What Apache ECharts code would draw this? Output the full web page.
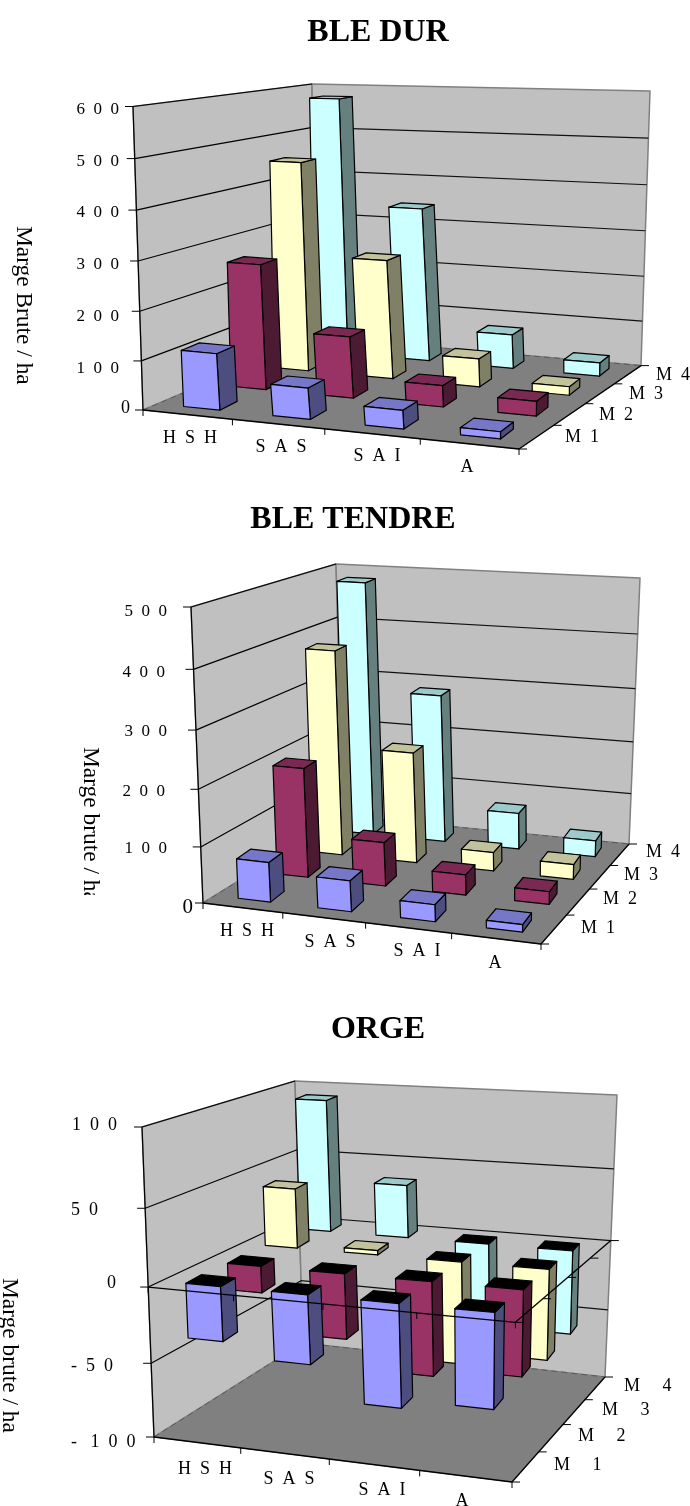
<!DOCTYPE html>
<html>
<head>
<meta charset="utf-8">
<style>
  html, body { margin: 0; padding: 0; background: #fff; }
  #main { width: 690px; height: 1506px; }
</style>
<script src="https://cdn.jsdelivr.net/npm/echarts@6/dist/echarts.min.js"></script>
</head>
<body>
<div id="main"></div>
<script>
// values
const categories = ['H  S  H', 'S  A  S', 'S  A  I', 'A'];

const durM1 = [115, 63, 37, 14];
const durM2 = [264, 128, 44, 30];
const durM3 = [455, 256, 60, 18];
const durM4 = [577, 342, 75, 29];
const durTicks = [0, 100, 200, 300, 400, 500, 600];
const durTickLabels = ['0', '1  0  0', '2  0  0', '3  0  0', '4  0  0', '5  0  0', '6  0  0'];
const durDepthLabels = ['M  1', 'M  2', 'M  3', 'M  4'];

const tendreM1 = [71, 55, 30, 13];
const tendreM2 = [200, 80, 37, 23];
const tendreM3 = [381, 207, 35, 28];
const tendreM4 = [482, 283, 70, 31];
const tendreTicks = [0, 100, 200, 300, 400, 500];
const tendreTickLabels = ['0', '1  0  0', '2  0  0', '3  0  0', '4  0  0', '5  0  0'];
const tendreDepthLabels = ['M  1', 'M  2', 'M  3', 'M  4'];

const orgeM1 = [-36, -45, -67, -61];
const orgeM2 = [-18, -44, -63, -57];
const orgeM3 = [41, 3, -71, -62];
const orgeM4 = [93, 37, -60, -59];
const orgeTicks = [-100, -50, 0, 50, 100];
const orgeTickLabels = ['-   1  0  0', '-  5  0', '0', '5  0', '1  0  0'];
const orgeDepthLabels = ['M     1', 'M     2', 'M     3', 'M     4'];

// face colours: front, side, top
const seriesColors = [
  ['#9999ff', '#4d4d80', '#7777c7'],
  ['#993366', '#4d1a33', '#7a2952'],
  ['#ffffcc', '#808066', '#c2c29d'],
  ['#ccffff', '#668080', '#9cc9c9']
];
const SERIF = '"Liberation Serif", "Times New Roman", serif';
const BAR_W = 0.41; // bar share of its cell, along categories
const BAR_D = 0.42; // same, into the depth
const LEAN = 25; // bar depth runs steeper than the floor edge

// box corners in pixels: front left, front right, back right, back left
const panels = [
  {
    min: 0, max: 600, bow: -0.036, skew: 4,
    floor: [[143, 410], [519, 449], [641, 365.6], [315, 337]],
    top: [[133, 106.5], [524, 124], [650, 91], [312, 84]],
    values: [durM1, durM2, durM3, durM4],
    ticks: durTicks, tickLabels: durTickLabels, depthLabels: durDepthLabels,
    tickFont: 17, zeroFont: 18,
    tickPos: [[130, 408, 'right'], [119, 369, 'right'], [119, 317, 'right'], [119, 265, 'right'], [119, 213, 'right'], [119, 162, 'right'], [119, 110, 'right']],
    catPos: [[190, 438], [281, 447], [377, 456], [467, 467]],
    depthPos: [[565, 437], [599, 415], [629, 394], [656, 375]],
    grid: { left: 140, top: 100, width: 400, height: 300 }
  },
  {
    min: 0, max: 500, bow: -0.066, skew: 3,
    floor: [[203, 903], [541, 944], [629, 844], [343, 816]],
    top: [[191, 607], [547, 634], [640, 578], [336, 564]],
    values: [tendreM1, tendreM2, tendreM3, tendreM4],
    ticks: tendreTicks, tickLabels: tendreTickLabels, depthLabels: tendreDepthLabels,
    tickFont: 17, zeroFont: 21,
    tickPos: [[193, 907, 'right'], [167, 849, 'right'], [165, 792, 'right'], [167, 732, 'right'], [165, 673, 'right'], [167, 612, 'right']],
    catPos: [[247, 931], [330, 942], [417, 951], [495, 963]],
    depthPos: [[581, 928], [603, 899], [624, 875], [646, 852]],
    grid: { left: 200, top: 610, width: 340, height: 290 }
  },
  {
    min: -100, max: 100, bow: -0.065, skew: 2,
    floor: [[154, 1437], [512, 1482], [605, 1377], [303, 1343]],
    top: [[142, 1127], [519, 1152], [617, 1095], [295, 1081]],
    values: [orgeM1, orgeM2, orgeM3, orgeM4],
    ticks: orgeTicks, tickLabels: orgeTickLabels, depthLabels: orgeDepthLabels,
    tickFont: 18, zeroFont: 18,
    tickPos: [[71, 1442, 'left'], [71, 1366, 'left'], [116, 1283, 'right'], [71, 1210, 'left'], [72, 1125, 'left']],
    catPos: [[205, 1469], [289, 1479], [382, 1490], [462, 1501]],
    depthPos: [[554, 1465], [578, 1436], [602, 1410], [624, 1386]],
    grid: { left: 150, top: 1130, width: 360, height: 300 }
  }
];

// unit square -> quad
function homography(q) {
  const [[x0, y0], [x1, y1], [x2, y2], [x3, y3]] = q;
  const dx1 = x1 - x2, dx2 = x3 - x2, sx = x0 - x1 + x2 - x3;
  const dy1 = y1 - y2, dy2 = y3 - y2, sy = y0 - y1 + y2 - y3;
  const det = dx1 * dy2 - dx2 * dy1;
  const g = (sx * dy2 - dx2 * sy) / det;
  const h = (dx1 * sy - sx * dy1) / det;
  return (u, v) => {
    const w = g * u + h * v + 1;
    return [
      (x1 - x0 + g * x1) * u / w + (x3 - x0 + h * x3) * v / w + x0 / w,
      (y1 - y0 + g * y1) * u / w + (y3 - y0 + h * y3) * v / w + y0 / w
    ];
  };
}

panels.forEach(p => {
  const floorAt = homography(p.floor);
  const topAt = homography(p.top);
  // u along categories, d into depth, t up the value axis, all 0..1
  p.project = (u, d, t) => {
    const a = floorAt(u, d), b = topAt(u, d);
    const k = t + p.bow * t * (1 - t);
    return [a[0] + (b[0] - a[0]) * k, a[1] + (b[1] - a[1]) * k];
  };
});

const unitX = (api, rect, i) => (api.coord([i, 0])[0] - rect.x) / rect.width;
const unitY = (api, rect, v) => (rect.y + rect.height - api.coord([0, v])[1]) / rect.height;

const line = (a, b, stroke, width, dash) => ({
  type: 'line',
  shape: { x1: a[0], y1: a[1], x2: b[0], y2: b[1] },
  style: { stroke: stroke || '#000', lineWidth: width || 1, lineDash: dash || null }
});
const poly = (points, fill, stroke, width) => ({
  type: 'polygon',
  shape: { points },
  style: { fill, stroke: stroke || '#000', lineWidth: width || 1.2, lineJoin: 'round' }
});
const text = (str, x, y, size, align) => ({
  type: 'text',
  style: { text: str, x, y, fill: '#000', align: align || 'center', verticalAlign: 'middle', font: size + 'px ' + SERIF }
});

// walls, floor, gridlines, labels
function renderFrame(p, params, api) {
  const rect = params.coordSys;
  const P = p.project;
  const kids = [
    poly([P(0, 0, 0), P(0, 1, 0), P(0, 1, 1), P(0, 0, 1)], '#c0c0c0', '#808080', 1.5),
    poly([P(0, 1, 0), P(1, 1, 0), P(1, 1, 1), P(0, 1, 1)], '#c0c0c0', '#808080', 1.5),
    poly([P(0, 0, 0), P(1, 0, 0), P(1, 1, 0), P(0, 1, 0)], '#808080', '#808080', 1),
    line(P(0, 1, 0), P(1, 1, 0), '#5a5a5a', 1, [6, 4]),
    line(P(0, 0, 0), P(0, 1, 0), '#5a5a5a', 1, [6, 4])
  ];
  p.ticks.forEach((tick, i) => {
    const t = unitY(api, rect, tick);
    if (tick !== p.min) {
      kids.push(line(P(0, 0, t), P(0, 1, t), '#000', 1.2));
      if (tick !== p.max) kids.push(line(P(0, 1, t), P(1, 1, t), '#111', 1.2));
    }
    const a = P(0, 0, t);
    kids.push(line(a, [a[0] - 8, a[1]], '#000', 1));
    const lp = p.tickPos[i];
    const size = tick === 0 ? p.zeroFont : p.tickFont;
    kids.push(text(p.tickLabels[i], lp[0], lp[1], size, lp[2]));
  });
  kids.push(line(P(0, 0, 0), P(0, 0, 1), '#000', 1.2));
  kids.push(...axisEdges(p, 0));
  categories.forEach((c, i) => kids.push(text(c, p.catPos[i][0], p.catPos[i][1], 18)));
  p.depthLabels.forEach((c, i) => kids.push(text(c, p.depthPos[i][0], p.depthPos[i][1], 18, 'left')));
  return { type: 'group', children: kids };
}

function axisEdges(p, t) {
  const P = p.project;
  const out = [line(P(0, 0, t), P(1, 0, t), '#000', 1.3), line(P(1, 0, t), P(1, 1, t), '#000', 1.3)];
  for (let i = 0; i <= 4; i++) {
    const a = P(i / 4, 0, t);
    out.push(line(a, [a[0], a[1] + 6], '#000', 1));
  }
  for (let i = 0; i <= 4; i++) {
    const a = P(1, i / 4, t);
    out.push(line(a, [a[0] + 8, a[1]], '#000', 1));
  }
  return out;
}

// one bar as three faces
function renderBar(p, depth, params, api) {
  const rect = params.coordSys;
  const cat = api.value(0), val = api.value(1);
  const uc = unitX(api, rect, cat);
  const u0 = uc - BAR_W / 8, u1 = uc + BAR_W / 8;
  const dc = (depth + 0.5) / 4;
  const d0 = dc - BAR_D / 8, d1 = dc + BAR_D / 8;
  const t0 = unitY(api, rect, 0), tv = unitY(api, rect, val);
  const P = (u, d, t) => {
    const a = p.project(u, d, t);
    return [a[0] + p.skew * d - LEAN * (d - d0), a[1]];
  };
  const hi = Math.max(t0, tv), lo = Math.min(t0, tv);
  const c = seriesColors[depth];
  const topFill = val < 0 ? '#000' : c[2];
  return {
    type: 'group',
    children: [
      poly([P(u1, d0, lo), P(u1, d1, lo), P(u1, d1, hi), P(u1, d0, hi)], c[1]),
      poly([P(u0, d0, hi), P(u1, d0, hi), P(u1, d1, hi), P(u0, d1, hi)], topFill),
      poly([P(u0, d0, lo), P(u1, d0, lo), P(u1, d0, hi), P(u0, d0, hi)], c[0])
    ]
  };
}

const grids = [], xAxes = [], yAxes = [], series = [];
panels.forEach((p, idx) => {
  grids.push(p.grid);
  xAxes.push({ gridIndex: idx, type: 'category', data: categories, show: false });
  yAxes.push({ gridIndex: idx, type: 'value', min: p.min, max: p.max, show: false });
  series.push({
    type: 'custom', xAxisIndex: idx, yAxisIndex: idx, z: 1, silent: true, clip: false,
    data: [[0, 0]], renderItem: (params, api) => renderFrame(p, params, api)
  });
  // back row first so the front rows cover it
  for (let depth = 3; depth >= 0; depth--) {
    series.push({
      type: 'custom', name: 'M' + (depth + 1), xAxisIndex: idx, yAxisIndex: idx, z: 2 + (3 - depth), silent: true, clip: false,
      data: p.values[depth].map((v, i) => [i, v]),
      encode: { x: 0, y: 1 },
      renderItem: (params, api) => renderBar(p, depth, params, api)
    });
  }
});

// the orge chart has its category plane at zero, drawn over the bars
series.push({
  type: 'custom', xAxisIndex: 2, yAxisIndex: 2, z: 10, silent: true, clip: false,
  data: [[0, 0]],
  renderItem: (params, api) => ({
    type: 'group',
    children: axisEdges(panels[2], unitY(api, params.coordSys, 0))
  })
});

const titleStyle = { fontFamily: SERIF, fontWeight: 'bold', fontSize: 32, color: '#000' };
const axisName = (str, x, y) => ({
  type: 'text', x, y, rotation: -Math.PI / 2, z: 20,
  style: { text: str, fill: '#000', font: '23.4px ' + SERIF, align: 'left', verticalAlign: 'middle' }
});

const chart = echarts.init(document.getElementById('main'));
chart.setOption({
  animation: false,
  backgroundColor: '#fff',
  title: [
    { text: 'BLE DUR', left: 373, top: 12, textAlign: 'center', textStyle: titleStyle },
    { text: 'BLE TENDRE', left: 348, top: 499, textAlign: 'center', textStyle: titleStyle },
    { text: 'ORGE', left: 373, top: 1009, textAlign: 'center', textStyle: titleStyle }
  ],
  grid: grids,
  xAxis: xAxes,
  yAxis: yAxes,
  series: series,
  graphic: [
    axisName('Marge Brute / ha', 23, 226),
    axisName('Marge brute / ha', 90, 747),
    { type: 'rect', z: 21, shape: { x: 70, y: 895, width: 40, height: 14 }, style: { fill: '#fff' } },
    axisName('Marge brute / ha', 9, 1278)
  ]
});
</script>
</body>
</html>
